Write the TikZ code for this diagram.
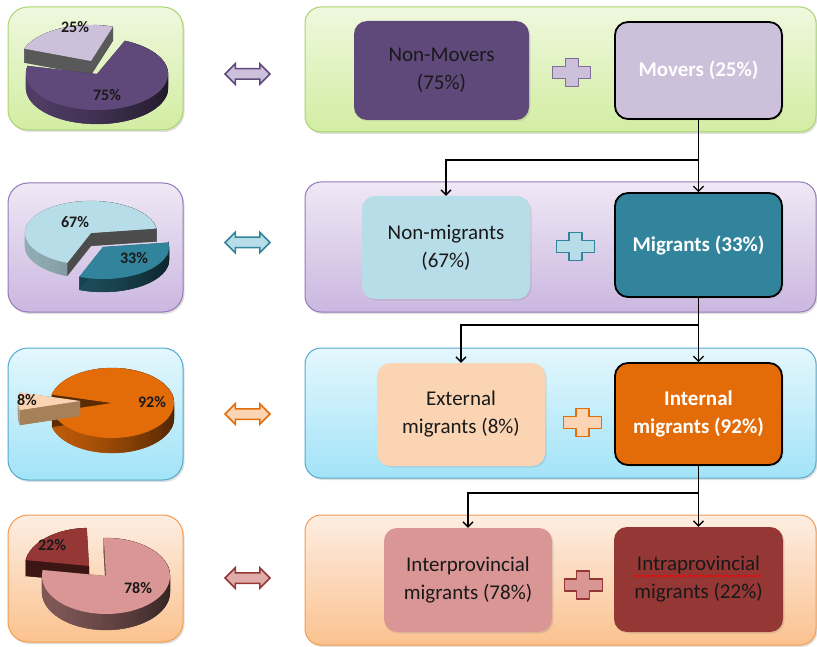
\documentclass[tikz,border=0pt]{standalone}
\usepackage{fontspec}
\setmainfont{Carlito}
\usepackage{tikz}
\usetikzlibrary{arrows.meta,shapes.arrows,shadows,decorations.pathmorphing}

\definecolor{grnT}{HTML}{EFF8DE}
\definecolor{grnB}{HTML}{D2EDA2}
\definecolor{grnL}{HTML}{A9D46E}
\definecolor{vioT}{HTML}{EFE8F5}
\definecolor{vioB}{HTML}{CBB7E0}
\definecolor{vioL}{HTML}{9479B8}
\definecolor{cyaT}{HTML}{E4F7FD}
\definecolor{cyaB}{HTML}{A2E3F8}
\definecolor{cyaL}{HTML}{55AACB}
\definecolor{orgT}{HTML}{FDEEE2}
\definecolor{orgB}{HTML}{FBC28F}
\definecolor{orgL}{HTML}{F59B4E}
\definecolor{plumD}{HTML}{5F497A}
\definecolor{plumL}{HTML}{CCC0DA}
\definecolor{tealL}{HTML}{B7DDE8}
\definecolor{tealD}{HTML}{31849B}
\definecolor{tanL}{HTML}{FBD4B4}
\definecolor{tanD}{HTML}{E36C09}
\definecolor{roseL}{HTML}{D99694}
\definecolor{roseD}{HTML}{953735}

% 3d pie slice: cx, cy, from, to, top, wall, cut  (radii and depth in \prx \pry \pdp)
\newcommand{\pieslice}[7]{%
  \fill[#6!70!black] (#1,#2+\pdp) -- plot[domain=#3:#4,samples=40]
    ({#1+\prx*cos(\x)},{#2+\pdp-\pry*sin(\x)}) -- cycle;
  \pgfmathtruncatemacro\pn{ceil((#4-#3)/4)}
  \pgfmathsetmacro\pst{(#4-#3)/\pn}
  \foreach \k in {1,...,\pn}{
    \pgfmathsetmacro\ta{#3+(\k-1)*\pst}
    \pgfmathsetmacro\tb{#3+\k*\pst}
    \pgfmathtruncatemacro\sh{58+26*cos((\ta+\tb)/2-200)}
    \filldraw[fill=#6!\sh!black, draw=#6!\sh!black, line width=0.3pt]
      ({#1+\prx*cos(\ta)},{#2-\pry*sin(\ta)}) -- ({#1+\prx*cos(\tb)},{#2-\pry*sin(\tb)})
      -- ({#1+\prx*cos(\tb)},{#2+\pdp-\pry*sin(\tb)}) -- ({#1+\prx*cos(\ta)},{#2+\pdp-\pry*sin(\ta)}) -- cycle;
  }
  \fill[#7] (#1,#2) -- ({#1+\prx*cos(#3)},{#2-\pry*sin(#3)})
    -- ({#1+\prx*cos(#3)},{#2+\pdp-\pry*sin(#3)}) -- (#1,#2+\pdp) -- cycle;
  \fill[#7] (#1,#2) -- ({#1+\prx*cos(#4)},{#2-\pry*sin(#4)})
    -- ({#1+\prx*cos(#4)},{#2+\pdp-\pry*sin(#4)}) -- (#1,#2+\pdp) -- cycle;
  \fill[#5] (#1,#2) -- plot[domain=#3:#4,samples=60]
    ({#1+\prx*cos(\x)},{#2-\pry*sin(\x)}) -- cycle;
}
\newcommand{\plusmark}[4]{%
  \filldraw[fill=#3, draw=#4, line width=1.3pt, line join=round]
    (#1-19,#2-6) -- (#1-6.5,#2-6) -- (#1-6.5,#2-14) -- (#1+6.5,#2-14) -- (#1+6.5,#2-6)
    -- (#1+19,#2-6) -- (#1+19,#2+6) -- (#1+6.5,#2+6) -- (#1+6.5,#2+14) -- (#1-6.5,#2+14)
    -- (#1-6.5,#2+6) -- (#1-19,#2+6) -- cycle;
}

\begin{document}
\begin{tikzpicture}[x=1pt, y=-1pt,
  every node/.style={font=\fontsize{21}{28}\selectfont},
  lp/.style={draw, line width=1pt, rounded corners=20pt, minimum width=175pt,
             drop shadow={opacity=0.25, shadow xshift=1.5pt, shadow yshift=-2pt}},
  rp/.style={draw, line width=1pt, rounded corners=16pt, minimum width=511pt,
             drop shadow={opacity=0.25, shadow xshift=1.5pt, shadow yshift=-2pt}},
  bx/.style={rounded corners=13pt, align=center, inner sep=0pt, text=black!90,
             minimum width=168pt, minimum height=103pt,
             drop shadow={opacity=0.2, shadow xshift=1.5pt, shadow yshift=-1.5pt}},
  hb/.style={bx, draw=black, line width=1.8pt, text=white,
             font=\fontsize{21}{28}\selectfont\bfseries},
  da/.style={double arrow, double arrow head extend=5pt, minimum height=45pt,
             inner xsep=0pt, inner ysep=4.5pt, line width=1.5pt},
  pl/.style={font=\fontsize{16}{18}\selectfont\bfseries, text=black!90, inner sep=0pt},
  ar/.style={-{Straight Barb[length=5pt,width=10pt]}, line width=1.3pt}]
  \useasboundingbox (0,0) rectangle (817,647);

  \node[lp, top color=grnT, bottom color=grnB, draw=grnL, minimum height=123pt] (l1) at (95.5,68.5) {};
  \node[lp, top color=vioT, bottom color=vioB, draw=vioL, minimum height=129pt] (l2) at (95.5,247.5) {};
  \node[lp, top color=cyaT, bottom color=cyaB, draw=cyaL, minimum height=132pt] (l3) at (95.5,414) {};
  \node[lp, top color=orgT, bottom color=orgB, draw=orgL, minimum height=127pt] (l4) at (95.5,578.5) {};

  \node[rp, top color=grnT, bottom color=grnB, draw=grnL, minimum height=125pt] (r1) at (560.5,69.5) {};
  \node[rp, top color=vioT, bottom color=vioB, draw=vioL, minimum height=130pt] (r2) at (560.5,247) {};
  \node[rp, top color=cyaT, bottom color=cyaB, draw=cyaL, minimum height=130pt] (r3) at (560.5,413) {};
  \node[rp, top color=orgT, bottom color=orgB, draw=orgL, minimum height=130pt] (r4) at (560.5,580) {};

  \def\prx{71}\def\pry{36}\def\pdp{14}
  \pieslice{91}{61}{72}{160}{plumL}{gray}{black!65}
  \pieslice{97}{74}{167}{427}{plumD}{plumD}{plumD!60!black}
  \def\prx{66}\def\pry{32}\def\pdp{13}
  \pieslice{91}{233}{8}{249}{tealL}{tealL!85!gray}{black!70}
  \pieslice{103}{247}{249}{368}{tealD}{tealD!80!black}{tealD!50!black}
  \def\prx{62}\def\pry{35}\def\pdp{15}
  \pieslice{112}{403}{195}{526}{tanD}{tanD}{tanD!40!black}
  \pieslice{80}{401}{166}{195}{tanL}{tanL!70!gray}{brown!60!gray}
  \def\prx{64}\def\pry{38}\def\pdp{16}
  \pieslice{89}{566}{92}{171}{roseD}{roseD!60!black}{roseD!40!black}
  \pieslice{106}{576}{171}{452}{roseL}{roseL!70!black}{roseL!50!black}

  \node[pl] (q1a) at (75,27) {25\%};
  \node[pl] (q1b) at (107,95) {75\%};
  \node[pl] (q2a) at (75,222) {67\%};
  \node[pl] (q2b) at (134,258) {33\%};
  \node[pl] (q3a) at (27,400) {8\%};
  \node[pl] (q3b) at (152,402) {92\%};
  \node[pl] (q4a) at (52,545) {22\%};
  \node[pl] (q4b) at (138,588) {78\%};

  \node[da, fill=plumL, draw=plumD] (d1) at (247.5,74) {};
  \node[da, fill=tealL, draw=tealD] (d2) at (247.5,242.5) {};
  \node[da, fill=tanL, draw=tanD] (d3) at (247.5,414) {};
  \node[da, fill=roseL!80!white, draw=roseD] (d4) at (247.5,578) {};

  \node[bx, fill=plumD, minimum width=175pt, minimum height=99pt] (nv) at (441.5,70.5) {Non-Movers\\(75\%)};
  \node[hb, fill=plumL, minimum width=167pt, minimum height=97pt] (mv) at (698.5,70.5) {Movers (25\%)};
  \node[bx, fill=tealL] (ng) at (446,247.5) {Non-migrants\\(67\%)};
  \node[hb, fill=tealD, minimum width=167pt, minimum height=104pt] (mg) at (698.5,245) {Migrants (33\%)};
  \node[bx, fill=tanL] (ex) at (461,414.5) {External\\migrants (8\%)};
  \node[hb, fill=tanD, minimum width=167pt, minimum height=102pt] (in) at (698.5,414) {Internal\\migrants (92\%)};
  \node[bx, fill=roseL, minimum height=104pt] (ip) at (468,580) {Interprovincial\\migrants (78\%)};
  \node[bx, fill=roseD, minimum width=169pt, minimum height=105pt] (ia) at (698.5,579.5) {Intraprovincial\\migrants (22\%)};
  \draw[red, line width=0.6pt, decorate, decoration={snake, amplitude=0.8pt, segment length=3pt}]
    (633,576) -- (762,576);

  \plusmark{571.7}{72.5}{plumL}{plumD!80}
  \plusmark{575.5}{246.7}{tealL}{tealD}
  \plusmark{582.5}{422.5}{tanL}{tanD}
  \plusmark{583.3}{585}{roseL}{roseD}

  \coordinate (j1) at (698.5,160);
  \coordinate (j2) at (698.5,325);
  \coordinate (j3) at (698.5,493);
  \draw[ar] (mv.south) -- (mg.north);  \draw[ar] (j1) -| (ng.north);
  \draw[ar] (mg.south) -- (in.north);  \draw[ar] (j2) -| (ex.north);
  \draw[ar] (in.south) -- (ia.north);  \draw[ar] (j3) -| (ip.north);
\end{tikzpicture}
\end{document}
